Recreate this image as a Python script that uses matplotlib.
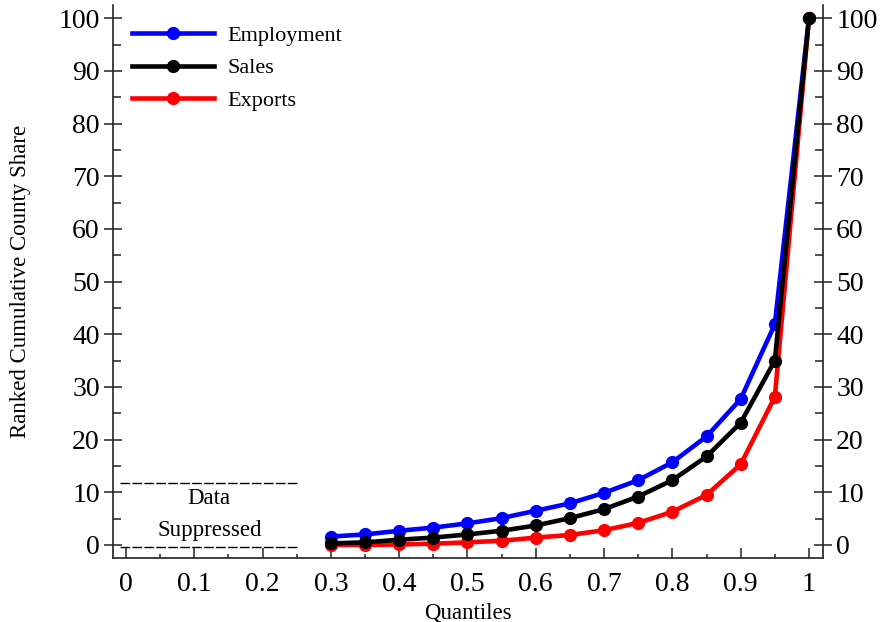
import matplotlib
matplotlib.use("Agg")
import matplotlib.pyplot as plt
from matplotlib.ticker import MultipleLocator

plt.rcParams['font.family'] = ['Liberation Serif', 'DejaVu Serif']

# quantile positions (nothing reported below 0.3)
quantiles = [0.30, 0.35, 0.40, 0.45, 0.50, 0.55, 0.60, 0.65,
             0.70, 0.75, 0.80, 0.85, 0.90, 0.95, 1.00]

employment = [1.6, 2.0, 2.7, 3.3, 4.1, 5.1, 6.5, 7.9,
              9.9, 12.3, 15.7, 20.6, 27.7, 41.9, 100.0]
sales = [0.3, 0.5, 1.0, 1.4, 2.0, 2.7, 3.7, 5.1,
         6.8, 9.2, 12.3, 16.8, 23.2, 35.0, 100.0]
exports = [0.0, 0.0, 0.1, 0.25, 0.5, 0.8, 1.4, 1.9,
           2.8, 4.2, 6.3, 9.5, 15.3, 28.1, 100.0]

# band of quantiles that are suppressed
suppressed_x = [-0.009, 0.25]
suppressed_y = [-0.4, 11.8]

fig = plt.figure(figsize=(8.8, 6.22), dpi=100)
ax = fig.add_axes([0.1284, 0.1029, 0.8068, 0.889])

ax.plot(quantiles, employment, color='blue', lw=3.3, marker='o', ms=8.5,
        label='Employment', zorder=3)
ax.plot(quantiles, sales, color='black', lw=3.3, marker='o', ms=8.5,
        label='Sales', zorder=5)
ax.plot(quantiles, exports, color='red', lw=3.3, marker='o', ms=8.5,
        label='Exports', zorder=4)

for yv in suppressed_y:
    ax.plot(suppressed_x, [yv, yv], color='black', lw=1.0,
            dashes=(7, 1.6), zorder=2)
ax.text(0.122, 8.9, 'Data', ha='center', va='center', fontsize=16.5)
ax.text(0.122, 2.8, 'Suppressed', ha='center', va='center', fontsize=16.5)

ax.set_xlim(-0.019, 1.0205)
ax.set_ylim(-2.47, 102.5)

ax.xaxis.set_major_locator(MultipleLocator(0.1))
ax.xaxis.set_minor_locator(MultipleLocator(0.05))
ax.yaxis.set_major_locator(MultipleLocator(10))
ax.yaxis.set_minor_locator(MultipleLocator(5))
ax.set_xticks([0, 0.1, 0.2, 0.3, 0.4, 0.5, 0.6, 0.7, 0.8, 0.9, 1.0])
ax.set_xticklabels(['0', '0.1', '0.2', '0.3', '0.4', '0.5', '0.6',
                    '0.7', '0.8', '0.9', '1'])

ax.spines['top'].set_visible(False)
for side in ['left', 'right', 'bottom']:
    ax.spines[side].set_linewidth(1.2)
    ax.spines[side].set_color('#222222')

ax.tick_params(axis='y', which='major', direction='inout', length=13,
               width=1.1, color='#222222', labelsize=20, pad=3,
               left=True, right=True, labelleft=True, labelright=True)
ax.tick_params(axis='y', which='minor', direction='in', length=6,
               width=1.1, color='#222222', left=True, right=True)
ax.tick_params(axis='x', which='major', direction='in', length=7,
               width=1.1, color='#222222', labelsize=20, pad=10)
ax.tick_params(axis='x', which='minor', direction='in', length=3,
               width=1.1, color='#222222')

ax.set_xlabel('Quantiles', fontsize=16.5, labelpad=4)
ax.set_ylabel('Ranked Cumulative County Share', fontsize=16.5, labelpad=20)

ax.legend(loc='upper left', bbox_to_anchor=(0.0, 0.997), frameon=False,
          fontsize=16, handlelength=3.7, handletextpad=0.6,
          labelspacing=0.53, borderaxespad=0.45, numpoints=1)

fig.savefig('out.png', dpi=100)
